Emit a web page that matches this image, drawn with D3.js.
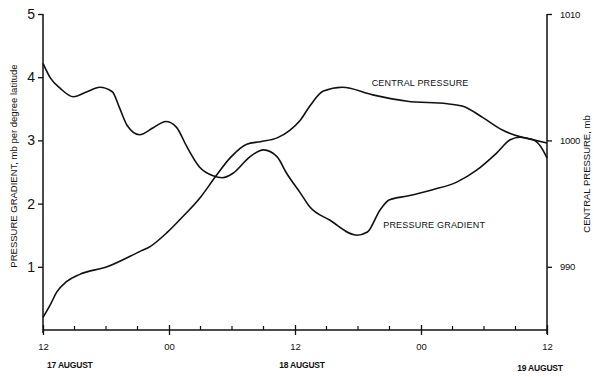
<!DOCTYPE html>
<html>
<head>
<meta charset="utf-8">
<script src="https://cdn.jsdelivr.net/npm/d3@7"></script>
<style>
  html, body { margin: 0; padding: 0; background: #fff; }
  svg { display: block; }
  text { font-family: "Liberation Sans", Arial, sans-serif; fill: #111; }
</style>
</head>
<body>
<svg id="chart" width="594" height="377"></svg>
<script>
// Hours after 12Z 17 August
const gradientHours = [0, 0.7, 1.6, 2.9, 4.2, 5.4, 6.6, 7.3, 8.0, 9.2, 10.5, 11.7, 12.7, 13.7, 14.9, 16.2, 17.1, 18.1, 19.7, 21, 22.3, 23.2, 24.5, 25.4, 27.3, 29.9, 30.9, 32.1, 33.0, 34.7, 37.1, 39.4, 41.3, 43.2, 44.5, 45.4, 46.7, 47.6, 48];
// Pressure gradient, mb per degree latitude
const gradientValues = [4.22, 3.99, 3.83, 3.69, 3.77, 3.84, 3.77, 3.51, 3.24, 3.09, 3.20, 3.30, 3.21, 2.90, 2.58, 2.44, 2.41, 2.48, 2.74, 2.85, 2.74, 2.48, 2.17, 1.95, 1.74, 1.50, 1.55, 1.90, 2.06, 2.12, 2.22, 2.34, 2.53, 2.80, 3.01, 3.05, 3.01, 2.85, 2.72];

const pressureHours = [0, 0.7, 1.3, 2.2, 3.5, 6.1, 9.2, 10.2, 11.8, 13, 15, 16.4, 17.8, 19.4, 20.7, 22.3, 23.5, 24.5, 25.4, 26.7, 28.5, 31.4, 34.7, 38.5, 40, 41.9, 43.8, 45.4, 46.4, 48];
// Central pressure, mb
const pressureValues = [986.0, 987.0, 988.0, 988.8, 989.4, 990.0, 991.2, 991.6, 992.7, 993.7, 995.5, 997.1, 998.6, 999.7, 999.9, 1000.2, 1000.8, 1001.6, 1002.7, 1003.9, 1004.2, 1003.6, 1003.1, 1002.9, 1002.7, 1001.8, 1000.8, 1000.3, 1000.1, 999.8];

const timeTicks = [0, 12, 24, 36, 48];
const timeTickLabels = ["12", "00", "12", "00", "12"];
const dateLabels = ["17 AUGUST", "18 AUGUST", "19 AUGUST"];
const gradientTicks = [1, 2, 3, 4, 5];
const pressureTicks = [990, 1000, 1010];

const svg = d3.select("#chart");
const plotLeft = 43, plotRight = 547, plotTop = 14, plotBottom = 330;

const x = d3.scaleLinear().domain([0, 48]).range([plotLeft, plotRight]);
const yG = d3.scaleLinear().domain([0, 5]).range([plotBottom, plotTop]);
const yP = d3.scaleLinear().domain([985, 1010]).range([plotBottom, plotTop]);

const axisStroke = 1.5;

// Left axis
const gl = svg.append("g").attr("transform", `translate(${plotLeft},0)`)
  .call(d3.axisLeft(yG).tickValues(gradientTicks).tickSize(5).tickPadding(3).tickFormat(d3.format("d")));
gl.select(".domain").remove();
gl.selectAll(".tick line").attr("stroke", "#111").attr("stroke-width", 1.3);
gl.selectAll(".tick text").attr("font-size", 14).attr("fill", "#222");
svg.append("line").attr("x1", plotLeft).attr("x2", plotLeft).attr("y1", yG(5)).attr("y2", plotBottom + 3)
  .attr("stroke", "#111").attr("stroke-width", axisStroke);

// Right axis
const gr = svg.append("g").attr("transform", `translate(${plotRight},0)`)
  .call(d3.axisRight(yP).tickValues(pressureTicks).tickSize(5).tickPadding(8).tickFormat(d3.format("d")));
gr.select(".domain").remove();
gr.selectAll(".tick line").attr("stroke", "#111").attr("stroke-width", 1.3);
gr.selectAll(".tick text").attr("font-size", 9.5).attr("letter-spacing", -0.3).attr("fill", "#222");
svg.append("line").attr("x1", plotRight).attr("x2", plotRight).attr("y1", yP(1010)).attr("y2", plotBottom + 4)
  .attr("stroke", "#111").attr("stroke-width", axisStroke);

// Bottom axis: minor 3-hour ticks pointing up, major 12-hour ticks
const minorTicks = d3.range(0, 49, 3).filter(h => h % 12 !== 0);
svg.append("g").selectAll("line").data(minorTicks).join("line")
  .attr("x1", d => x(d)).attr("x2", d => x(d))
  .attr("y1", plotBottom).attr("y2", plotBottom - 4)
  .attr("stroke", "#111").attr("stroke-width", 1.2);
const gb = svg.append("g").attr("transform", `translate(0,${plotBottom})`)
  .call(d3.axisBottom(x).tickValues(timeTicks).tickSize(5).tickPadding(8).tickFormat((d, i) => timeTickLabels[i]));
gb.select(".domain").remove();
gb.selectAll(".tick line").attr("y1", -5).attr("stroke", "#111").attr("stroke-width", 1.3);
gb.selectAll(".tick text").attr("font-size", 9.5).attr("fill", "#222");
svg.append("line").attr("x1", plotLeft).attr("x2", plotRight).attr("y1", plotBottom).attr("y2", plotBottom)
  .attr("stroke", "#111").attr("stroke-width", axisStroke);

// Date labels under the time ticks
const datePos = [{ h: 0, dx: 4, anchor: "start", y: 368 }, { h: 24, dx: 7, anchor: "middle", y: 368 }, { h: 48, dx: -7, anchor: "middle", y: 371 }];
svg.append("g").selectAll("text").data(dateLabels).join("text")
  .attr("x", (d, i) => x(datePos[i].h) + datePos[i].dx)
  .attr("y", (d, i) => datePos[i].y)
  .attr("text-anchor", (d, i) => datePos[i].anchor)
  .attr("font-size", 8.5).attr("font-weight", "bold").attr("letter-spacing", -0.2)
  .text(d => d);

// Axis titles
svg.append("text")
  .attr("transform", `translate(17,${(yG(5) + plotBottom) / 2 - 6}) rotate(-90)`)
  .attr("text-anchor", "middle").attr("font-size", 9.5)
  .text("PRESSURE GRADIENT,  mb per degree latitude");
svg.append("text")
  .attr("transform", `translate(590,${(yG(5) + plotBottom) / 2 + 2}) rotate(-90)`)
  .attr("text-anchor", "middle").attr("font-size", 9.5)
  .text("CENTRAL PRESSURE, mb");

// Curves: smooth, x-monotone interpolation through the read-off points
const gradientLine = d3.line()
  .x((d, i) => x(gradientHours[i])).y(d => yG(d))
  .curve(d3.curveMonotoneX);
const pressureLine = d3.line()
  .x((d, i) => x(pressureHours[i])).y(d => yP(d))
  .curve(d3.curveMonotoneX);

svg.append("path").datum(gradientValues).attr("d", gradientLine)
  .attr("fill", "none").attr("stroke", "#111").attr("stroke-width", 1.6);
svg.append("path").datum(pressureValues).attr("d", pressureLine)
  .attr("fill", "none").attr("stroke", "#111").attr("stroke-width", 1.6);

// Curve labels
svg.append("text").attr("x", x(31.3)).attr("y", 86).attr("font-size", 9)
  .attr("letter-spacing", 0.2).text("CENTRAL PRESSURE");
svg.append("text").attr("x", x(32.4)).attr("y", 228).attr("font-size", 9)
  .attr("letter-spacing", 0.2).text("PRESSURE GRADIENT");
</script>
</body>
</html>
